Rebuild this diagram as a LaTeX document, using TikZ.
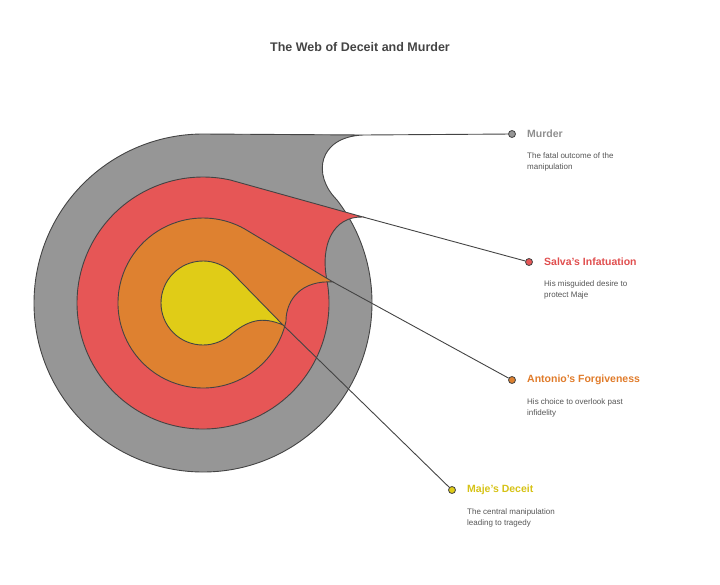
\documentclass[tikz,border=0pt]{standalone}
\usepackage{fontspec}
\setmainfont{Liberation Sans}
\usetikzlibrary{calc}
\definecolor{cgray}{HTML}{969696}
\definecolor{cred}{HTML}{E65656}
\definecolor{corange}{HTML}{DE8130}
\definecolor{cyellow}{HTML}{E0CC17}
\definecolor{tgray}{HTML}{8F8F8F}
\definecolor{tred}{HTML}{E04E4E}
\definecolor{torange}{HTML}{E07B2A}
\definecolor{tyellow}{HTML}{D6C216}
\definecolor{edge}{HTML}{444444}
\definecolor{desc}{HTML}{555555}
\begin{document}
\begin{tikzpicture}[x=1pt,y=-1pt,
  layer/.style={draw=edge,line width=0.9pt},
  conn/.style={draw=edge,line width=0.9pt},
  dotn/.style={circle,draw=edge,line width=0.8pt,minimum size=7pt,inner sep=0pt},
  ttl/.style={font=\bfseries\fontsize{10.5}{12}\selectfont,anchor=west,inner sep=0pt},
  dsc/.style={font=\fontsize{8}{11}\selectfont,text=desc,anchor=north west,align=left,inner sep=0pt}]
\useasboundingbox (0,0) rectangle (720,584);
\coordinate (c) at (203,303);
% gray
\fill[cgray,layer] ($(c)+(270:169)$) -- (363,135) .. controls (318,137) and (312,175) .. ($(c)+(-37.7:169)$) arc[start angle=-37.7,end angle=270,radius=169] -- cycle;
% red
\fill[cred,layer] ($(c)+(282.4:126)$) -- (363,217) .. controls (333,216) and (320,245) .. ($(c)+(-10.4:126)$) arc[start angle=-10.4,end angle=282.4,radius=126] -- cycle;
% orange
\fill[corange,layer] ($(c)+(299:85)$) -- (333,282) .. controls (303,280) and (286,298) .. ($(c)+(12.6:85)$) arc[start angle=12.6,end angle=299,radius=85] -- cycle;
% yellow
\fill[cyellow,layer] ($(c)+(312:42)$) -- (283,325) .. controls (262,316) and (248,320) .. ($(c)+(50.7:42)$) arc[start angle=50.7,end angle=312,radius=42] -- cycle;
\coordinate (t1) at (363,135);
\coordinate (t2) at (363,217);
\coordinate (t3) at (333,282);
\coordinate (t4) at (283,325);
\node[dotn,fill=cgray] (d1) at (512,134) {};
\node[dotn,fill=cred] (d2) at (529,262) {};
\node[dotn,fill=corange] (d3) at (512,380) {};
\node[dotn,fill=cyellow] (d4) at (452,490) {};
\draw[conn] (t1) -- (d1);
\draw[conn] (t2) -- (d2);
\draw[conn] (t3) -- (d3);
\draw[conn] (t4) -- (d4);
\node[font=\bfseries\fontsize{12.5}{14}\selectfont,text=edge] (title) at (360,47) {The Web of Deceit and Murder};
\node[ttl,text=tgray] (l1) at (527,134) {Murder};
\node[dsc] (s1) at (527,152) {The fatal outcome of the\\manipulation};
\node[ttl,text=tred] (l2) at (544,262) {Salva's Infatuation};
\node[dsc] (s2) at (544,280) {His misguided desire to\\protect Maje};
\node[ttl,text=torange] (l3) at (527,380) {Antonio's Forgiveness};
\node[dsc] (s3) at (527,398) {His choice to overlook past\\infidelity};
\node[ttl,text=tyellow] (l4) at (467,490) {Maje's Deceit};
\node[dsc] (s4) at (467,508) {The central manipulation\\leading to tragedy};
\end{tikzpicture}
\end{document}
